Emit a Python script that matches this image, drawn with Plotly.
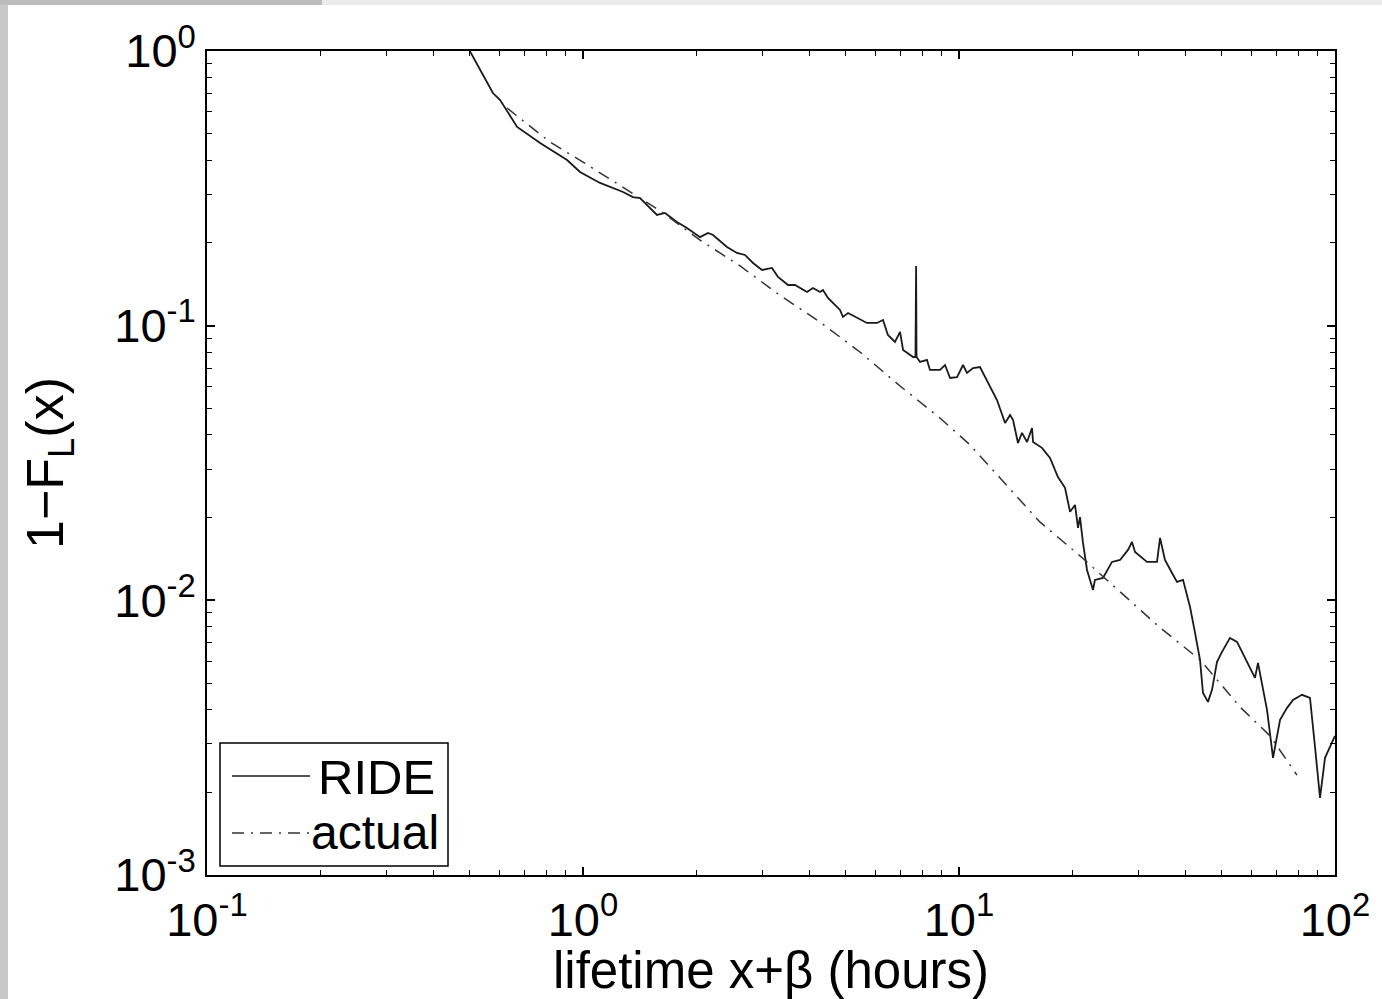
import plotly.graph_objects as go

# ---- data ----
ride_lifetime = [0.5, 0.576, 0.602, 0.668, 0.769, 0.907, 0.982, 1.110, 1.278, 1.358,
                 1.418, 1.573, 1.652, 1.778, 1.890, 2.048, 2.150, 2.217, 2.415, 2.568,
                 2.697, 2.833, 2.993, 3.182, 3.301, 3.510, 3.663, 3.942, 4.090, 4.268,
                 4.347, 4.483, 4.825, 4.914, 5.069, 5.39, 5.69, 6.052, 6.279, 6.47,
                 6.757, 6.97, 7.10, 7.55, 7.66, 7.69, 7.71, 7.88, 8.22, 8.37,
                 8.90, 9.18, 9.47, 9.88, 10.25, 10.50, 10.90, 11.37, 11.87, 12.62,
                 13.26, 13.67, 13.92, 14.35, 14.71, 15.17, 15.64, 15.74, 16.62, 17.46,
                 18.33, 19.14, 19.74, 20.35, 20.73, 20.98, 21.37, 21.90, 22.72, 22.99,
                 24.15, 25.52, 26.81, 28.15, 28.85, 29.39, 31.62, 33.62, 34.25, 35.31,
                 36.86, 38.00, 39.43, 41.16, 42.44, 43.75, 44.56, 45.94, 47.09, 48.55,
                 50.06, 52.57, 54.88, 59.41, 61.26, 62.40, 63.96, 65.95, 68.42, 70.12,
                 71.43, 74.55, 77.34, 81.70, 85.80, 88.47, 91.23, 94.06, 98.17, 100.0]
ride_survival = [1.0, 0.703, 0.663, 0.529, 0.4625, 0.401, 0.3626, 0.3308, 0.3067, 0.294,
                 0.2916, 0.253, 0.2572, 0.2385, 0.2268, 0.210, 0.2175, 0.2139, 0.1934, 0.184,
                 0.1809, 0.1691, 0.1595, 0.1622, 0.1504, 0.1406, 0.1406, 0.1326, 0.1371, 0.1326,
                 0.1349, 0.1261, 0.1141, 0.1076, 0.1112, 0.1067, 0.1023, 0.1023, 0.1049, 0.0925,
                 0.0872, 0.0949, 0.0816, 0.0769, 0.0769, 0.1649, 0.0769, 0.0738, 0.0750, 0.0690,
                 0.0690, 0.0719, 0.0645, 0.0650, 0.0719, 0.0673, 0.0701, 0.0707, 0.0634, 0.0536,
                 0.0442, 0.0473, 0.0454, 0.0374, 0.0407, 0.0377, 0.0424, 0.0377, 0.0359, 0.0330,
                 0.0281, 0.0257, 0.0210, 0.02225, 0.01835, 0.0201, 0.01618, 0.0129, 0.01091, 0.01187,
                 0.01207, 0.0138, 0.01403, 0.01526, 0.01632, 0.01501, 0.0138, 0.0138, 0.01687, 0.01403,
                 0.01258, 0.01167, 0.01187, 0.00946, 0.00761, 0.00607, 0.00460, 0.00427, 0.00472, 0.00597,
                 0.00649, 0.00730, 0.00706, 0.00572, 0.00522, 0.00592, 0.00500, 0.00399, 0.00267, 0.00316,
                 0.00367, 0.00406, 0.00434, 0.00453, 0.00441, 0.00293, 0.00191, 0.00267, 0.00303, 0.00321]

actual_lifetime = [0.628, 0.817, 1.0, 1.254, 1.603, 2.048, 2.616, 3.34, 4.27, 5.45,
                   6.97, 8.90, 10.7, 12.86, 16.4, 21.0, 26.8, 34.3, 43.8, 55.9,
                   67.2, 79.2]
actual_survival = [0.620, 0.466, 0.394, 0.325, 0.262, 0.205, 0.165, 0.129, 0.1031, 0.0802,
                   0.0603, 0.0461, 0.0368, 0.0279, 0.0193, 0.0145, 0.01074, 0.00794, 0.00607, 0.00409,
                   0.00321, 0.00231]

x_tickvals = [0.1, 1, 10, 100]
x_ticktext = ["10<sup>-1</sup>", "10<sup>0</sup>", "10<sup>1</sup>", "10<sup>2</sup>"]
y_tickvals = [0.001, 0.01, 0.1, 1]
y_ticktext = ["10<sup>-3</sup>", "10<sup>-2</sup>", "10<sup>-1</sup>", "10<sup>0</sup>"]
series_names = ["RIDE", "actual"]

x_minor = [m * d for d in (0.1, 1, 10) for m in range(2, 10)]
y_minor = [m * d for d in (0.001, 0.01, 0.1) for m in range(2, 10)]

# ---- layout geometry (pixels) ----
W, H = 1382, 999
L, R, T, B = 207, 1335, 51, 875
DASHDOT = "12px,7px,2px,7px"
FONT = "Liberation Sans, Arial, Helvetica, sans-serif"
TICK_FONT = dict(family=FONT, size=47, color="black")
XTITLE_FONT = dict(family=FONT, size=51, color="black")
YTITLE_FONT = dict(family=FONT, size=52, color="black")


def px(xp):
    return (xp - L) / (R - L)


def py(yp):
    return (B - yp) / (B - T)


fig = go.Figure()
fig.add_trace(go.Scatter(x=ride_lifetime, y=ride_survival, mode="lines",
                         name=series_names[0], line=dict(color="#1a1a1a", width=1.8),
                         showlegend=False))
fig.add_trace(go.Scatter(x=actual_lifetime, y=actual_survival, mode="lines",
                         name=series_names[1],
                         line=dict(color="#333333", width=1.5, dash=DASHDOT),
                         showlegend=False))

fig.update_xaxes(type="log", range=[-1, 2], showline=True, linecolor="black", linewidth=1.5,
                 mirror="ticks", ticks="inside", ticklen=8, tickwidth=1.5, tickcolor="black",
                 showgrid=False, zeroline=False,
                 tickmode="array", tickvals=x_tickvals, ticktext=x_ticktext,
                 tickfont=TICK_FONT, ticklabelstandoff=3,
                 minor=dict(ticks="inside", ticklen=5, tickwidth=1.2, tickcolor="black",
                            tickmode="array", tickvals=x_minor, showgrid=False),
                 title=dict(text="lifetime x+β (hours)", font=XTITLE_FONT, standoff=1))
fig.update_yaxes(type="log", range=[-3, 0], showline=True, linecolor="black", linewidth=1.5,
                 mirror="ticks", ticks="inside", ticklen=8, tickwidth=1.5, tickcolor="black",
                 showgrid=False, zeroline=False,
                 tickmode="array", tickvals=y_tickvals, ticktext=y_ticktext,
                 tickfont=TICK_FONT,
                 minor=dict(ticks="inside", ticklen=5, tickwidth=1.2, tickcolor="black",
                            tickmode="array", tickvals=y_minor, showgrid=False),
                 title=dict(text="1−F<sub>L</sub>(x)", font=YTITLE_FONT, standoff=34))

shapes = [
    # slide decoration
    dict(type="rect", xref="paper", yref="paper", x0=px(0), x1=px(8), y0=py(999), y1=py(0),
         fillcolor="#c8c8c8", line=dict(width=0), layer="below"),
    dict(type="rect", xref="paper", yref="paper", x0=px(0), x1=px(322), y0=py(5), y1=py(0),
         fillcolor="#bcbcbc", line=dict(width=0), layer="below"),
    dict(type="rect", xref="paper", yref="paper", x0=px(322), x1=px(W), y0=py(5), y1=py(0),
         fillcolor="#ebebeb", line=dict(width=0), layer="below"),
    # legend box
    dict(type="rect", xref="paper", yref="paper", x0=px(220), x1=px(448), y0=py(866), y1=py(743),
         fillcolor="white", line=dict(color="black", width=1.5)),
    dict(type="line", xref="paper", yref="paper", x0=px(232), x1=px(310), y0=py(776), y1=py(776),
         line=dict(color="#1a1a1a", width=1.6)),
    dict(type="line", xref="paper", yref="paper", x0=px(232), x1=px(310), y0=py(833), y1=py(833),
         line=dict(color="#333333", width=1.5, dash=DASHDOT)),
]
annotations = [
    dict(text=series_names[0], xref="paper", yref="paper", x=px(316), y=py(777), xanchor="left",
         yanchor="middle", showarrow=False, font=dict(family=FONT, size=49, color="black")),
    dict(text=series_names[1], xref="paper", yref="paper", x=px(309), y=py(832), xanchor="left",
         yanchor="middle", showarrow=False, font=dict(family=FONT, size=48, color="black")),
]

fig.update_layout(width=W, height=H, margin=dict(l=L, r=W - R, t=T, b=H - B),
                  paper_bgcolor="white", plot_bgcolor="white",
                  font=dict(family=FONT, size=44, color="black"),
                  shapes=shapes, annotations=annotations, showlegend=False)

fig.write_html("out.html")
